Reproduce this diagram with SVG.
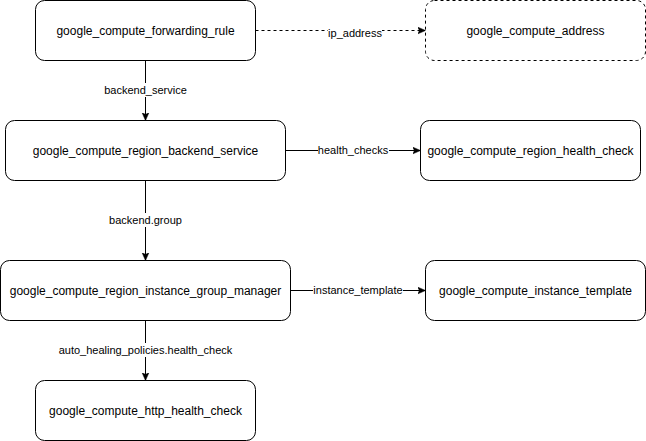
<svg xmlns="http://www.w3.org/2000/svg" width="646" height="441" viewBox="0 0 646 441">
<style>
.node rect{fill:#fff;stroke:#000;stroke-width:1}
.dashed rect{stroke-dasharray:3 3}
.node text{font-family:"Liberation Sans",Arial,sans-serif;font-size:12px;fill:#000;text-anchor:middle}
.edge{stroke:#000;stroke-width:1;fill:none}
.lbl rect{fill:#fff}
.lbl text{font-family:"Liberation Sans",Arial,sans-serif;font-size:11px;fill:#000;text-anchor:middle}
</style>
<defs>
<marker id="arr" markerUnits="userSpaceOnUse" markerWidth="10" markerHeight="10" refX="8" refY="4" orient="auto">
<path d="M0,0.5 L8,4 L0,7.5 L2,4 Z" fill="#000" stroke="#000" stroke-width="0.5"/>
</marker>
</defs>
<g id="connectors">
<path class="edge" d="M145.5,60.5 V120.5" marker-end="url(#arr)"/>
<path class="edge" d="M255.5,30.5 H425.5" stroke-dasharray="3 3" marker-end="url(#arr)"/>
<path class="edge" d="M285.5,150.5 H420.5" marker-end="url(#arr)"/>
<path class="edge" d="M145.5,180.5 V260.5" marker-end="url(#arr)"/>
<path class="edge" d="M290.5,290.5 H425.5" marker-end="url(#arr)"/>
<path class="edge" d="M145.5,320.5 V380.5" marker-end="url(#arr)"/>
<g class="lbl">
<rect x="103" y="83" width="85" height="14"/><text x="145.5" y="94">backend_service</text>
<rect x="328" y="26" width="54" height="14"/><text x="355" y="37">ip_address</text>
<rect x="318" y="144" width="71" height="13"/><text x="353" y="154">health_checks</text>
<rect x="108" y="213" width="75" height="14"/><text x="145.5" y="224">backend.group</text>
<rect x="313" y="284" width="90" height="13"/><text x="358" y="294">instance_template</text>
<rect x="57" y="343" width="177" height="14"/><text x="145.5" y="354">auto_healing_policies.health_check</text>
</g>
</g>
<g id="forwarding_rule" class="node"><rect x="35.5" y="0.5" width="220" height="60" rx="9"/><text x="145.5" y="35">google_compute_forwarding_rule</text></g>
<g id="address" class="node dashed"><rect x="425.5" y="0.5" width="220" height="60" rx="9"/><text x="535.5" y="35">google_compute_address</text></g>
<g id="region_backend_service" class="node"><rect x="5.5" y="120.5" width="280" height="60" rx="9"/><text x="145.5" y="155">google_compute_region_backend_service</text></g>
<g id="region_health_check" class="node"><rect x="420.5" y="120.5" width="220" height="60" rx="9"/><text x="530.5" y="155">google_compute_region_health_check</text></g>
<g id="region_instance_group_manager" class="node"><rect x="0.5" y="260.5" width="290" height="60" rx="9"/><text x="145.5" y="295">google_compute_region_instance_group_manager</text></g>
<g id="instance_template" class="node"><rect x="425.5" y="260.5" width="220" height="60" rx="9"/><text x="535.5" y="295">google_compute_instance_template</text></g>
<g id="http_health_check" class="node"><rect x="35.5" y="380.5" width="220" height="60" rx="9"/><text x="145.5" y="415">google_compute_http_health_check</text></g>
</svg>
